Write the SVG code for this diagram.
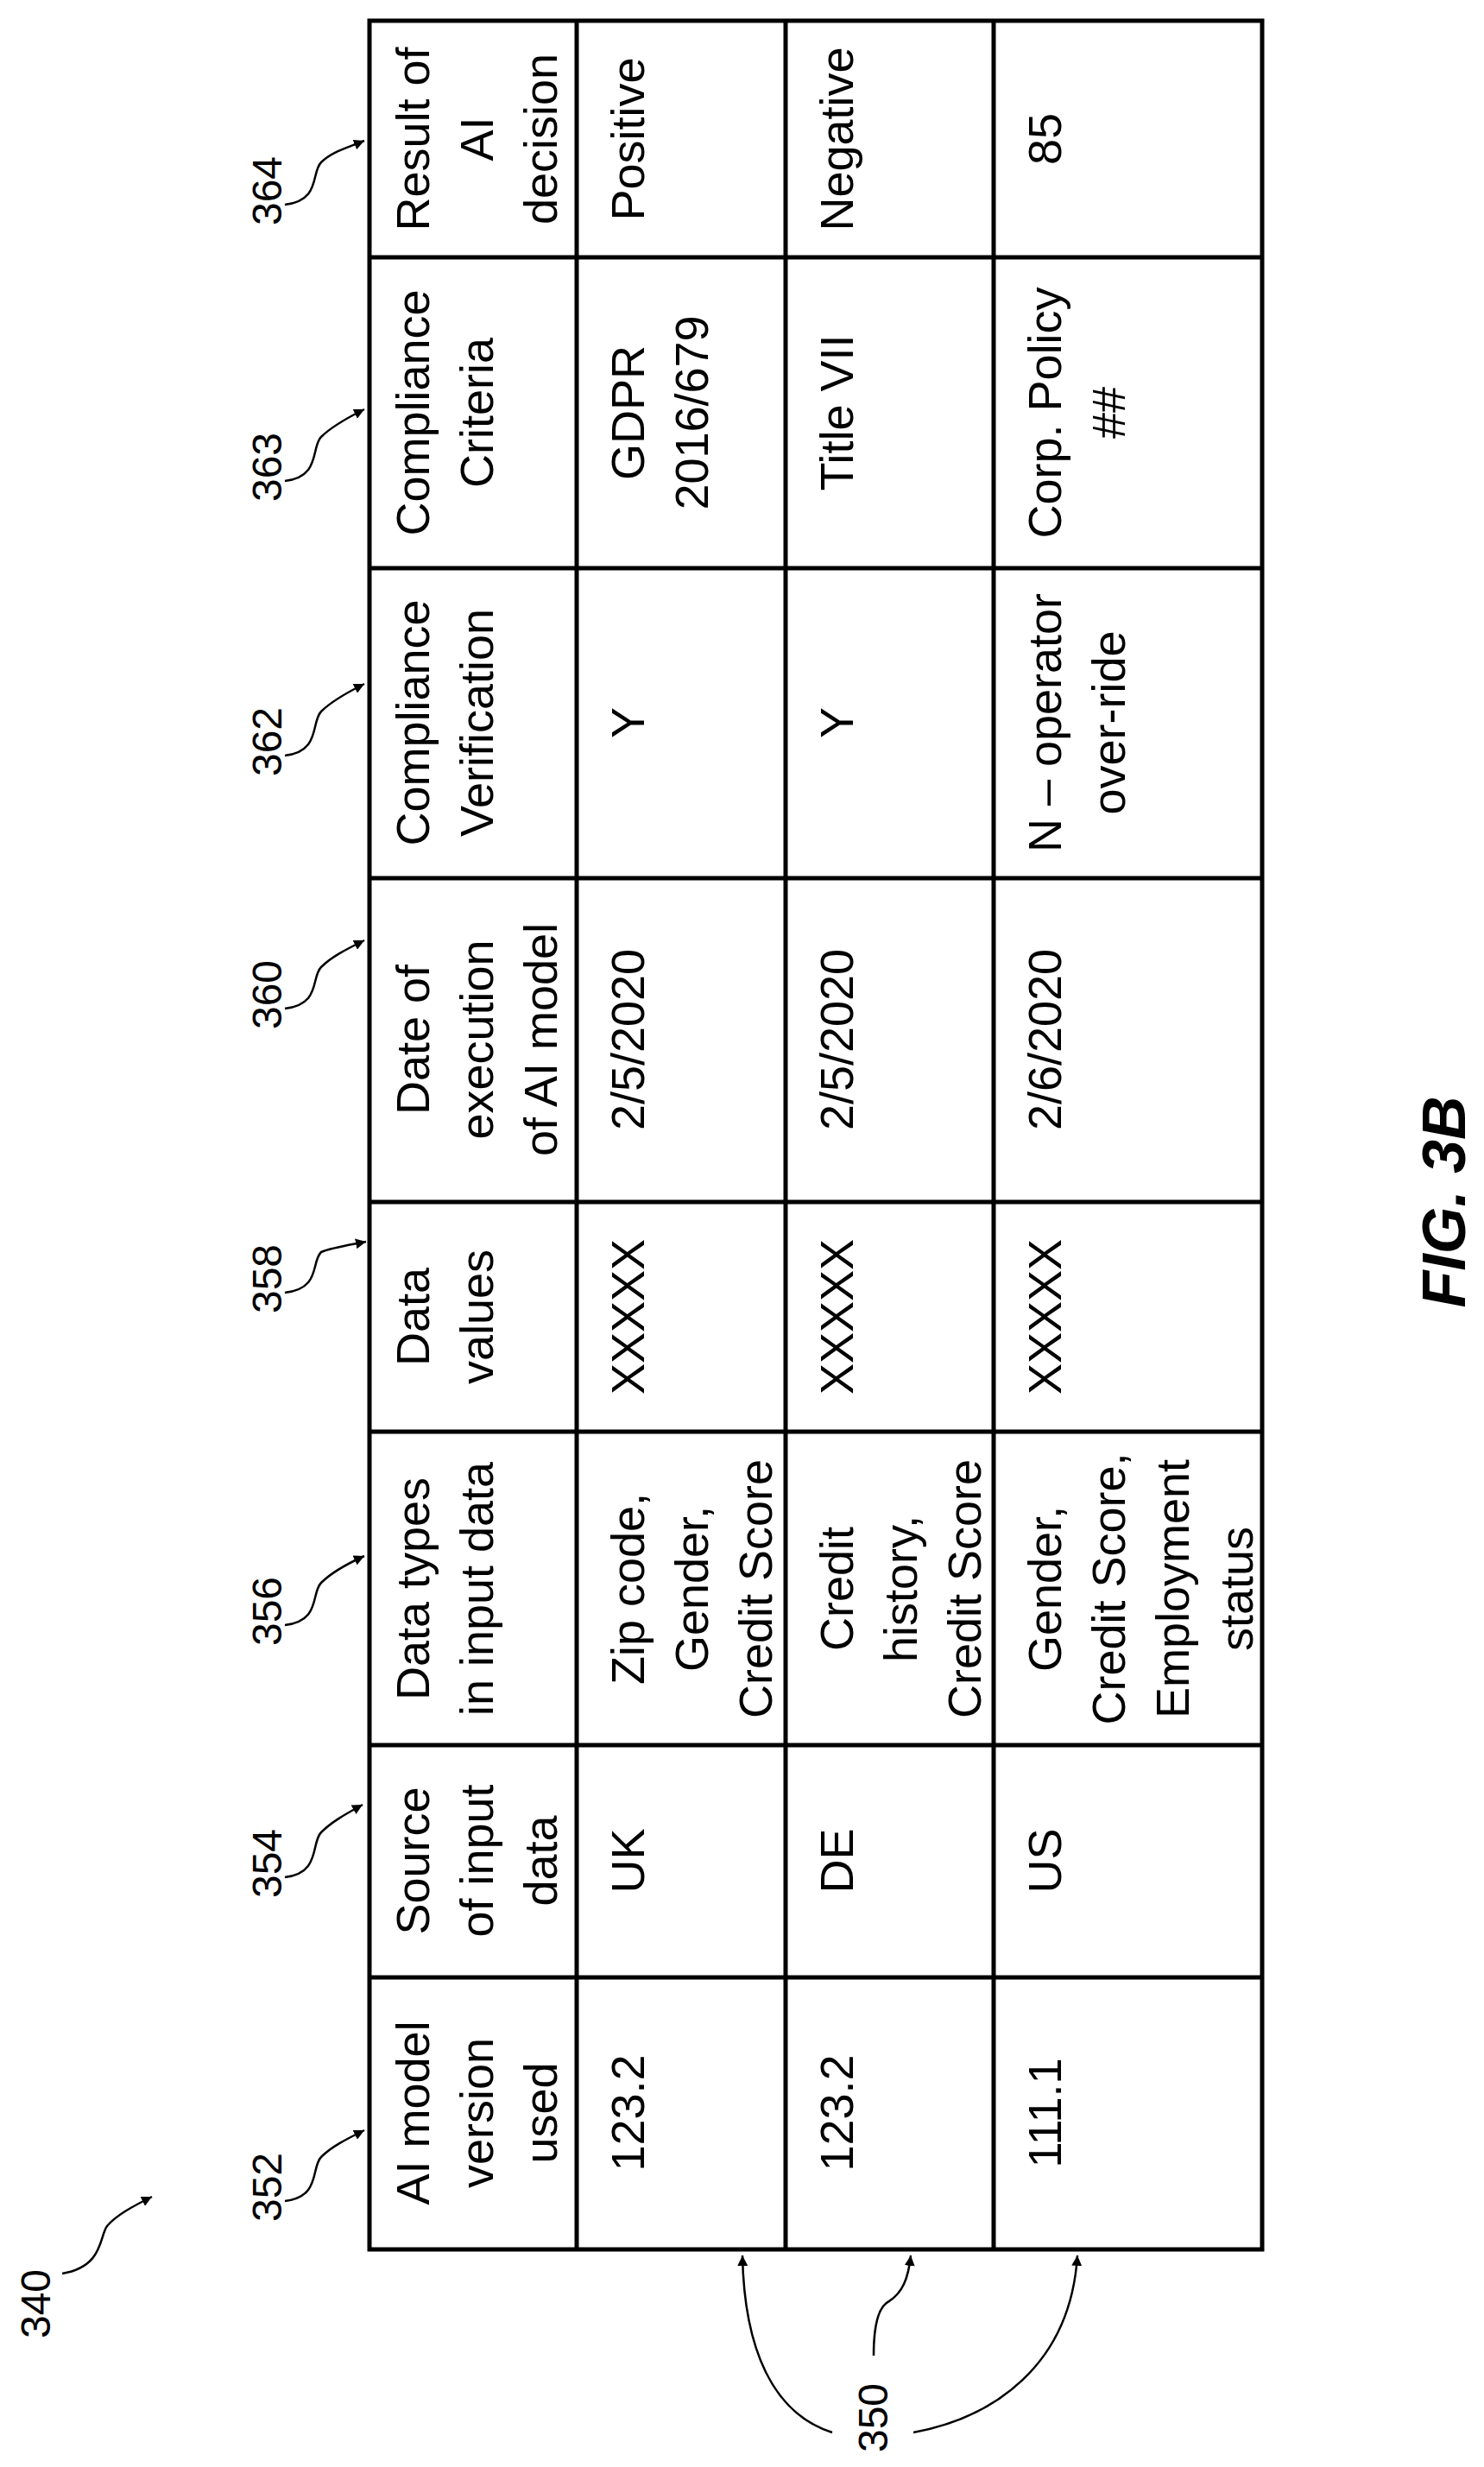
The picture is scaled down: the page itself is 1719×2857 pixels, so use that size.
<svg xmlns="http://www.w3.org/2000/svg" width="1719" height="2857" viewBox="0 0 1719 2857">
<style>
.t{font-family:"Liberation Sans",Arial,sans-serif;font-size:54px;text-anchor:middle;fill:#000}
.n{font-family:"Liberation Sans",Arial,sans-serif;font-size:48px;text-anchor:middle;fill:#000}
.g{fill:none;stroke:#000;stroke-width:5}
.c{fill:none;stroke:#000;stroke-width:2.5}
</style>
<defs>
<marker id="ah" viewBox="0 0 10 10" refX="10" refY="5" markerWidth="12" markerHeight="12" markerUnits="userSpaceOnUse" orient="auto"><path d="M0,0 L10,5 L0,10 z" fill="#000"/></marker>
<marker id="a" viewBox="0 0 10 10" refX="10" refY="5" markerWidth="10" markerHeight="10" orient="auto"><path d="M0,1 L10,5 L0,9 z" fill="#000"/></marker>
</defs>
<g id="table">
<rect class="g" x="428" y="24" width="1034" height="2581"/>
<line class="g" x1="668" y1="24" x2="668" y2="2605"/>
<line class="g" x1="910" y1="24" x2="910" y2="2605"/>
<line class="g" x1="1151" y1="24" x2="1151" y2="2605"/>
<line class="g" x1="428" y1="298" x2="1462" y2="298"/>
<line class="g" x1="428" y1="658" x2="1462" y2="658"/>
<line class="g" x1="428" y1="1017" x2="1462" y2="1017"/>
<line class="g" x1="428" y1="1392" x2="1462" y2="1392"/>
<line class="g" x1="428" y1="1658" x2="1462" y2="1658"/>
<line class="g" x1="428" y1="2021" x2="1462" y2="2021"/>
<line class="g" x1="428" y1="2290" x2="1462" y2="2290"/>
</g>
<g id="col352">
<text class="t" transform="translate(497,2447) rotate(-90)"><tspan x="0">AI model</tspan><tspan x="0" dy="74">version</tspan><tspan x="0" dy="74">used</tspan></text>
<text class="t" transform="translate(746,2447) rotate(-90)">123.2</text>
<text class="t" transform="translate(988,2447) rotate(-90)">123.2</text>
<text class="t" transform="translate(1229,2447) rotate(-90)">111.1</text>
</g>
<g id="col354">
<text class="t" transform="translate(497,2155) rotate(-90)"><tspan x="0">Source</tspan><tspan x="0" dy="74">of input</tspan><tspan x="0" dy="74">data</tspan></text>
<text class="t" transform="translate(746,2155) rotate(-90)">UK</text>
<text class="t" transform="translate(988,2155) rotate(-90)">DE</text>
<text class="t" transform="translate(1229,2155) rotate(-90)">US</text>
</g>
<g id="col356">
<text class="t" transform="translate(497,1840) rotate(-90)"><tspan x="0">Data types</tspan><tspan x="0" dy="74">in input data</tspan></text>
<text class="t" transform="translate(746,1840) rotate(-90)"><tspan x="0">Zip code,</tspan><tspan x="0" dy="74">Gender,</tspan><tspan x="0" dy="74">Credit Score</tspan></text>
<text class="t" transform="translate(988,1840) rotate(-90)"><tspan x="0">Credit</tspan><tspan x="0" dy="74">history,</tspan><tspan x="0" dy="74">Credit Score</tspan></text>
<text class="t" transform="translate(1229,1840) rotate(-90)"><tspan x="0">Gender,</tspan><tspan x="0" dy="74">Credit Score,</tspan><tspan x="0" dy="74">Employment</tspan><tspan x="0" dy="74">status</tspan></text>
</g>
<g id="col358">
<text class="t" transform="translate(497,1525) rotate(-90)"><tspan x="0">Data</tspan><tspan x="0" dy="74">values</tspan></text>
<text class="t" transform="translate(746,1525) rotate(-90)">XXXXX</text>
<text class="t" transform="translate(988,1525) rotate(-90)">XXXXX</text>
<text class="t" transform="translate(1229,1525) rotate(-90)">XXXXX</text>
</g>
<g id="col360">
<text class="t" transform="translate(497,1204) rotate(-90)"><tspan x="0">Date of</tspan><tspan x="0" dy="74">execution</tspan><tspan x="0" dy="74">of AI model</tspan></text>
<text class="t" transform="translate(746,1204) rotate(-90)">2/5/2020</text>
<text class="t" transform="translate(988,1204) rotate(-90)">2/5/2020</text>
<text class="t" transform="translate(1229,1204) rotate(-90)">2/6/2020</text>
</g>
<g id="col362">
<text class="t" transform="translate(497,837) rotate(-90)"><tspan x="0">Compliance</tspan><tspan x="0" dy="74">Verification</tspan></text>
<text class="t" transform="translate(746,837) rotate(-90)">Y</text>
<text class="t" transform="translate(988,837) rotate(-90)">Y</text>
<text class="t" transform="translate(1229,837) rotate(-90)"><tspan x="0">N – operator</tspan><tspan x="0" dy="74">over-ride</tspan></text>
</g>
<g id="col363">
<text class="t" transform="translate(497,478) rotate(-90)"><tspan x="0">Compliance</tspan><tspan x="0" dy="74">Criteria</tspan></text>
<text class="t" transform="translate(746,478) rotate(-90)"><tspan x="0">GDPR</tspan><tspan x="0" dy="74">2016/679</tspan></text>
<text class="t" transform="translate(988,478) rotate(-90)">Title VII</text>
<text class="t" transform="translate(1229,478) rotate(-90)"><tspan x="0">Corp. Policy</tspan><tspan x="0" dy="74">##</tspan></text>
</g>
<g id="col364">
<text class="t" transform="translate(497,161) rotate(-90)"><tspan x="0">Result of</tspan><tspan x="0" dy="74">AI</tspan><tspan x="0" dy="74">decision</tspan></text>
<text class="t" transform="translate(746,161) rotate(-90)">Positive</text>
<text class="t" transform="translate(988,161) rotate(-90)">Negative</text>
<text class="t" transform="translate(1229,161) rotate(-90)">85</text>
</g>
<g id="labels">
<text class="n" transform="translate(326,221) rotate(-90)">364</text>
<text class="n" transform="translate(326,541) rotate(-90)">363</text>
<text class="n" transform="translate(326,859) rotate(-90)">362</text>
<text class="n" transform="translate(326,1152) rotate(-90)">360</text>
<text class="n" transform="translate(326,1481) rotate(-90)">358</text>
<text class="n" transform="translate(326,1866) rotate(-90)">356</text>
<text class="n" transform="translate(326,2158) rotate(-90)">354</text>
<text class="n" transform="translate(326,2533) rotate(-90)">352</text>
<text class="n" transform="translate(58,2668) rotate(-90)">340</text>
<text class="n" transform="translate(1028,2800) rotate(-90)">350</text>
<text transform="translate(1697,1392) rotate(-90)" style="font-family:'Liberation Sans',Arial,sans-serif;font-size:70px;font-weight:bold;font-style:italic;text-anchor:middle">FIG. 3B</text>
</g>
<g id="connectors">
<path class="c" marker-end="url(#ah)" d="M330,237 C372,232 360,200 372,188 C384,176 400,172 422,163"/>
<path class="c" marker-end="url(#ah)" d="M330,557 C372,552 360,518 372,506 C384,494 400,485 422,474"/>
<path class="c" marker-end="url(#ah)" d="M330,875 C372,870 360,836 372,824 C384,812 400,803 422,792"/>
<path class="c" marker-end="url(#ah)" d="M330,1168 C372,1163 360,1132 372,1120 C384,1108 400,1100 422,1089"/>
<path class="c" marker-end="url(#ah)" d="M330,1497 C372,1492 360,1462 372,1450 C384,1445 404,1442 424,1438"/>
<path class="c" marker-end="url(#ah)" d="M330,1882 C372,1877 360,1845 372,1833 C384,1821 400,1812 422,1802"/>
<path class="c" marker-end="url(#ah)" d="M330,2174 C372,2169 360,2134 372,2122 C384,2110 400,2101 420,2090"/>
<path class="c" marker-end="url(#ah)" d="M330,2549 C372,2544 360,2510 372,2498 C384,2486 400,2478 422,2467"/>
<path class="c" marker-end="url(#ah)" d="M72,2633 C120,2625 115,2590 124,2578 C134,2566 152,2556 176,2544"/>
<path class="c" marker-end="url(#ah)" d="M964,2817 C895,2795 862,2720 860,2612"/>
<path class="c" marker-end="url(#ah)" d="M1012,2728 C1012,2700 1015,2672 1030,2665 C1045,2655 1052,2640 1055,2612"/>
<path class="c" marker-end="url(#ah)" d="M1058,2817 C1150,2800 1240,2740 1248,2612"/>
</g>
</svg>
